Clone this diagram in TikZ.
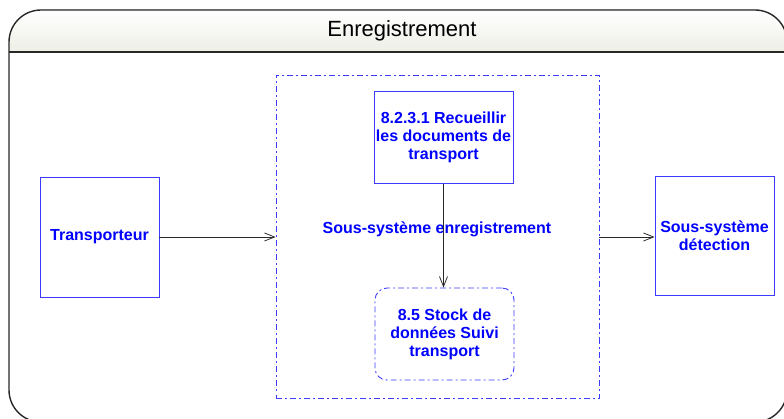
\documentclass[tikz,border=0pt]{standalone}
\usepackage{fontspec}
\setmainfont{Liberation Sans}
\usepackage{xcolor}
\usetikzlibrary{arrows.meta, positioning}

\definecolor{boxblue}{RGB}{60,60,255}
\definecolor{headgray}{RGB}{238,238,230}
\definecolor{linegray}{RGB}{40,40,40}

\begin{document}
\begin{tikzpicture}[
    x=1pt, y=-1pt,
    every node/.style={font=\fontsize{16}{18}\selectfont\bfseries, text=blue},
    box/.style={draw=boxblue, line width=0.9pt, align=center, inner sep=1pt,
                minimum width=119pt, minimum height=120pt},
    proc/.style={box, minimum width=139pt, minimum height=92pt},
    store/.style={proc, rounded corners=12pt, dashdot},
    dashdot/.style={dash pattern=on 6pt off 3pt on 2pt off 3pt},
    arr/.style={-{Straight Barb[length=10pt, width=8pt]}, linegray, line width=0.8pt},
]
\useasboundingbox (0,0) rectangle (784,419);
\clip (0,0) rectangle (784,419);

% frame and title bar
\fill[top color=white, bottom color=headgray]
    (9,52) {[rounded corners=32pt] -- (9,10) -- (787,10)} -- (787,52) -- cycle;
\draw[linegray, line width=1.4pt, rounded corners=32pt] (9,422) rectangle (787,10);
\draw[linegray, line width=1.4pt] (9,52) -- (787,52);
\node[font=\fontsize{22}{24}\selectfont, text=black] (title) at (402,31) {Enregistrement};

% subsystem
\node[box, dashdot, minimum width=323pt, minimum height=323pt] (sys) at (437.5,237) {};
\node (syslbl) at (437,229) {Sous-système enregistrement};

\node[box]   (trans)   at (99.5,237)  {Transporteur};
\node[proc]  (recueil) at (443.5,137.5) {8.2.3.1 Recueillir\\les documents de\\transport};
\node[store] (stock)   at (444.5,334) {8.5 Stock de\\données Suivi\\transport};
\node[box, minimum height=119pt] (detect) at (714.5,235.5) {Sous-système\\détection};

\draw[arr] (trans.east) -- (sys.west);
\draw[arr] (recueil.south) -- (recueil.south |- stock.north);
\draw[arr] (sys.east) -- (sys.east -| detect.west);
\end{tikzpicture}
\end{document}
